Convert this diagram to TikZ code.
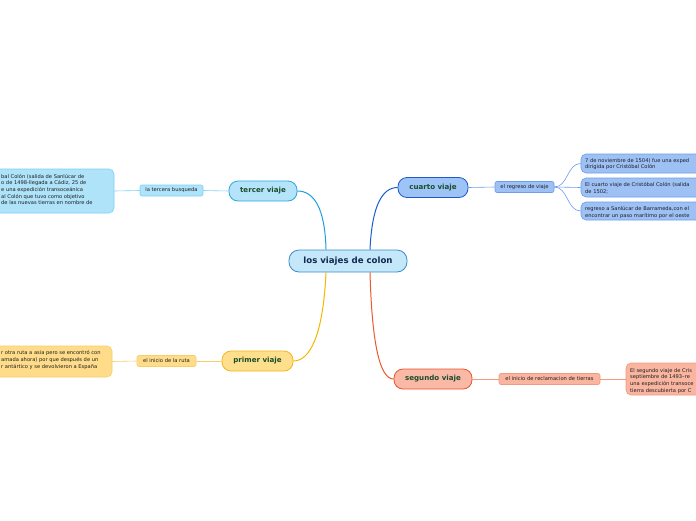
\documentclass[tikz,border=0pt]{standalone}
\usepackage{fontspec}
\setmainfont{DejaVu Sans}
\setsansfont{DejaVu Sans}
\definecolor{cfill}{HTML}{C4E8FA}
\definecolor{cdraw}{HTML}{3A8DC8}
\definecolor{ctext}{HTML}{142850}
\definecolor{ttext}{HTML}{1B4D2B}
\definecolor{leaftext}{HTML}{1E1E1E}
\definecolor{tfill}{HTML}{B5E4FA}
\definecolor{tdraw}{HTML}{2AA7E0}
\definecolor{tline}{HTML}{1E9FE3}
\definecolor{tsfill}{HTML}{AEE3FA}
\definecolor{tsdraw}{HTML}{7FD0F3}
\definecolor{qfill}{HTML}{9EC3F7}
\definecolor{qdraw}{HTML}{1E5BC6}
\definecolor{qline}{HTML}{1B5FCF}
\definecolor{qsfill}{HTML}{9DC0F5}
\definecolor{qsdraw}{HTML}{6E9EEB}
\definecolor{pfill}{HTML}{FEDF8C}
\definecolor{pdraw}{HTML}{F3B61F}
\definecolor{pline}{HTML}{F5B700}
\definecolor{psfill}{HTML}{FEDC8A}
\definecolor{psdraw}{HTML}{F8CE6A}
\definecolor{sfill}{HTML}{F9B9A6}
\definecolor{sdraw}{HTML}{E8552B}
\definecolor{sline}{HTML}{EA5A2B}
\definecolor{ssfill}{HTML}{F9B5A0}
\definecolor{ssdraw}{HTML}{F29A80}
\tikzset{
  central/.style={draw=cdraw, fill=cfill, line width=0.8pt, rounded corners=10pt, minimum width=118pt, minimum height=22pt, inner sep=0pt, text=ctext, font=\fontsize{8.6}{10}\selectfont\bfseries},
  mainbox/.style={line width=0.8pt, rounded corners=9pt, minimum width=#1, minimum height=20pt, inner sep=0pt, text=ttext, font=\fontsize{7.1}{9}\selectfont\bfseries},
  subbox/.style={line width=0.6pt, rounded corners=2pt, minimum width=#1, minimum height=11pt, inner sep=0pt, text=leaftext, font=\fontsize{5.2}{6}\selectfont},
  leafbox/.style={line width=0.6pt, rounded corners=5pt, inner sep=0pt},
  leaftxt/.style={inner sep=0pt, align=left, text=leaftext, font=\fontsize{5.15}{6.7}\selectfont, anchor=north west},
  link/.style={line width=0.6pt}
}
\begin{document}
\begin{tikzpicture}[x=1pt,y=-1pt]
\useasboundingbox (0,0) rectangle (696,520);
\fill[white] (0,0) rectangle (696,520);

% central
\node[central] (c) at (348,261) {los viajes de colon};

% main topics
\node[mainbox=68pt, draw=tdraw, fill=tfill] (t) at (263,191) {tercer viaje};
\node[mainbox=71pt, draw=pdraw, fill=pfill] (p) at (257.5,361) {primer viaje};
\node[mainbox=70pt, draw=qdraw, fill=qfill] (q) at (433,187.5) {cuarto viaje};
\node[mainbox=78pt, draw=sdraw, fill=sfill] (s) at (433,379) {segundo viaje};

% connectors from central
\draw[tline, line width=1pt] ([xshift=-22pt]c.north) .. controls (325,208) and (314,191) .. (t.east);
\draw[qline, line width=1pt] ([xshift=22pt]c.north) .. controls (372,206) and (382,187.5) .. (q.west);
\draw[pline, line width=1pt] ([xshift=-22pt]c.south) .. controls (323,338) and (309,361) .. (p.east);
\draw[sline, line width=1pt] ([xshift=22pt]c.south) .. controls (372,345) and (380,379) .. (s.west);

% subtopics
\node[subbox=63pt, draw=tsdraw, fill=tsfill] (ts) at (171.5,190.5) {la tercera busqueda};
\node[subbox=59pt, draw=psdraw, fill=psfill] (ps) at (166.5,361) {el inicio de la ruta};
\node[subbox=59pt, draw=qsdraw, fill=qsfill] (qs) at (524.5,187) {el regreso de viaje};
\node[subbox=101pt, draw=ssdraw, fill=ssfill] (ss) at (549.5,379) {el inicio de reclamacion de tierras};

\draw[link, tsdraw] (t.west) -- (ts.east);
\draw[link, psdraw] (p.west) -- (ps.east);
\draw[link, qsdraw] (q.east) -- (qs.west);
\draw[link, ssdraw] (s.east) -- (ss.west);

% leaves
\node[leafbox, draw=tsdraw, fill=tsfill, minimum width=134pt, minimum height=44pt] (tl) at (47,191) {};
\node[leaftxt] (tlt) at (1,173.8) {bal Colón (salida de Sanlúcar de\\o de 1498-llegada a Cádiz, 25 de\\e una expedición transoceánica\\al Colón que tuvo como objetivo\\ de las nuevas tierras en nombre de};

\node[leafbox, draw=psdraw, fill=psfill, minimum width=132pt, minimum height=31pt] (pl) at (46,361.5) {};
\node[leaftxt] (plt) at (1,350.5) {r otra ruta a asia pero se encontró con\\amada ahora) por que después de un\\r antártico y se devolvieron a España};

\node[leafbox, draw=qsdraw, fill=qsfill, minimum width=135pt, minimum height=19pt] (ql1) at (648.5,163.5) {};
\node[leafbox, draw=qsdraw, fill=qsfill, minimum width=135pt, minimum height=19pt] (ql2) at (648.5,187.5) {};
\node[leafbox, draw=qsdraw, fill=qsfill, minimum width=135pt, minimum height=18pt] (ql3) at (648.5,211) {};
\node[leaftxt] (ql1t) at (585,158) {7 de noviembre de 1504) fue una exped\\dirigida por Cristóbal Colón};
\node[leaftxt] (ql2t) at (585,182) {El cuarto viaje de Cristóbal Colón (salida\\de 1502;};
\node[leaftxt] (ql3t) at (585,206) {regreso a Sanlúcar de Barrameda,con el\\encontrar un paso marítimo por el oeste};

\draw[link, qsdraw] (qs.east) .. controls (568,187) and (567,163.5) .. (ql1.west);
\draw[link, qsdraw] (qs.east) -- (ql2.west);
\draw[link, qsdraw] (qs.east) .. controls (568,187) and (567,211) .. (ql3.west);

\node[leafbox, draw=ssdraw, fill=ssfill, minimum width=110pt, minimum height=32pt] (sl) at (681,379) {};
\node[leaftxt] (slt) at (630,368) {El segundo viaje de Cris\\septiembre de 1493–re\\una expedición transoce\\tierra descubierta por C};

\draw[link, tsdraw] (ts.west) -- (tl.east);
\draw[link, psdraw] (ps.west) -- (pl.east);
\draw[link, ssdraw] (ss.east) -- (sl.west);
\end{tikzpicture}
\end{document}
